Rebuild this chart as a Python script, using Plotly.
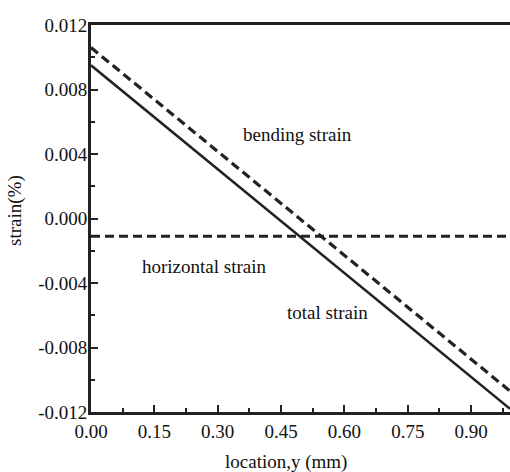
import plotly.graph_objects as go

# data
location = [0.0, 0.992]
bending_strain = [0.0106, -0.0107]
horizontal_strain = [-0.0011, -0.0011]
total_strain = [0.0095, -0.0118]

x_tickvals = [0.0, 0.15, 0.30, 0.45, 0.60, 0.75, 0.90]
x_ticktext = ["0.00", "0.15", "0.30", "0.45", "0.60", "0.75", "0.90"]
y_tickvals = [-0.012, -0.008, -0.004, 0.0, 0.004, 0.008, 0.012]
y_ticktext = ["-0.012", "-0.008", "-0.004", "0.000", "0.004", "0.008", "0.012"]

labels = ["bending strain", "horizontal strain", "total strain"]
label_x = [0.49, 0.268, 0.559]
label_y = [0.0052, -0.0030, -0.0058]

FONT = "Liberation Serif, Times New Roman, serif"

fig = go.Figure()
fig.add_trace(go.Scatter(x=location, y=bending_strain, mode="lines",
                         line=dict(color="#222", width=3.2, dash="9px,5px"),
                         showlegend=False))
fig.add_trace(go.Scatter(x=location, y=horizontal_strain, mode="lines",
                         line=dict(color="#222", width=3.2, dash="9px,5px"),
                         showlegend=False))
fig.add_trace(go.Scatter(x=location, y=total_strain, mode="lines",
                         line=dict(color="#222", width=2.5),
                         showlegend=False))

for t, x, y in zip(labels, label_x, label_y):
    fig.add_annotation(x=x, y=y, text=t, showarrow=False,
                       xanchor="center", yanchor="middle",
                       font=dict(family=FONT, size=19, color="#111"))

# axis titles as annotations
fig.add_annotation(xref="paper", yref="paper", x=0.465, y=-0.129,
                   xanchor="center", yanchor="middle",
                   text="location,y (mm)", showarrow=False,
                   font=dict(family=FONT, size=19, color="#111"))
fig.add_annotation(xref="paper", yref="paper", x=-0.181, y=0.52,
                   xanchor="center", yanchor="middle",
                   text="strain(%)", showarrow=False, textangle=-90,
                   font=dict(family=FONT, size=19, color="#111"))

fig.update_layout(
    width=510, height=472,
    margin=dict(l=91, r=0, t=25, b=60),
    paper_bgcolor="white", plot_bgcolor="white",
    font=dict(family=FONT, size=19, color="#111"),
    xaxis=dict(
        range=[0, 0.992], tickvals=x_tickvals, ticktext=x_ticktext,
        ticks="inside", ticklen=7, tickwidth=2, tickcolor="#222",
        minor=dict(tickvals=[0.075, 0.225, 0.375, 0.525, 0.675, 0.825, 0.975],
                   ticks="inside", ticklen=4, tickwidth=2, tickcolor="#222"),
        showline=True, linewidth=2.5, linecolor="#222", mirror=True,
        showgrid=False, zeroline=False,
        tickfont=dict(family=FONT, size=19),
    ),
    yaxis=dict(
        range=[-0.012, 0.012], tickvals=y_tickvals, ticktext=y_ticktext,
        ticks="inside", ticklen=7, tickwidth=2, tickcolor="#222",
        ticklabelstandoff=-3,
        minor=dict(tickvals=[-0.010, -0.006, -0.002, 0.002, 0.006, 0.010],
                   ticks="inside", ticklen=4, tickwidth=2, tickcolor="#222"),
        showline=True, linewidth=2.8, linecolor="#222", mirror=False,
        showgrid=False, zeroline=False,
        tickfont=dict(family=FONT, size=19),
    ),
)

fig.write_html("out.html", config={"displayModeBar": False},
               post_script="document.body.style.margin='0';document.body.style.overflow='hidden';")
